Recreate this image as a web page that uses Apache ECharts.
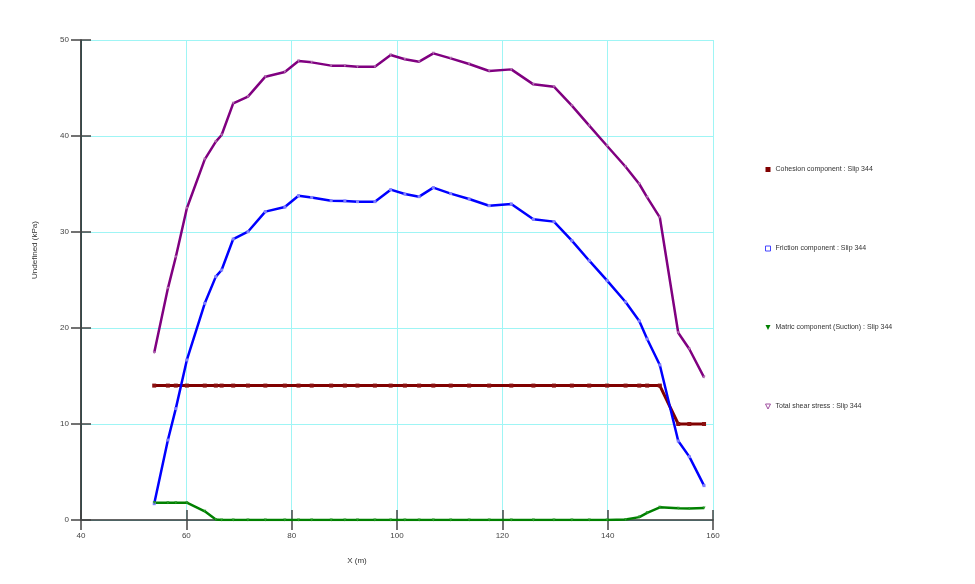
<!DOCTYPE html>
<html>
<head>
<meta charset="utf-8">
<script src="https://cdn.jsdelivr.net/npm/echarts@6/dist/echarts.min.js"></script>
<style>
    html, body { margin: 0; padding: 0; background: #fff; }
    #chart { width: 975px; height: 584px; }
</style>
</head>
<body>
<div id="chart"></div>
<script>
    // slice x positions (m)
    var xValues = [53.9, 56.5, 58.0, 60.1, 63.5, 65.6, 66.7, 68.9, 71.7, 75.0, 78.7, 81.3, 83.8, 87.5, 90.1, 92.5,
        95.8, 98.8, 101.5, 104.2, 106.9, 110.2, 113.7, 117.5, 121.7, 125.9, 129.8, 133.2, 136.5, 139.9, 143.4,
        146.0, 147.5, 149.9, 153.4, 155.5, 158.3];

    var cohesion = [14, 14, 14, 14, 14, 14, 14, 14, 14, 14, 14, 14, 14, 14, 14, 14, 14, 14, 14, 14, 14, 14, 14,
        14, 14, 14, 14, 14, 14, 14, 14, 14, 14, 14, 10, 10, 10];

    var friction = [1.7, 8.33, 11.6, 16.67, 22.57, 25.35, 26.04, 29.27, 30.03, 32.12, 32.6, 33.78, 33.6, 33.26,
        33.23, 33.16, 33.16, 34.41, 33.96, 33.68, 34.62, 34.0, 33.44, 32.74, 32.92, 31.32, 31.08, 29.1, 27.01,
        24.93, 22.71, 20.73, 18.85, 16.15, 8.23, 6.6, 3.58];

    var matric = [1.8, 1.8, 1.8, 1.8, 0.9, 0.05, 0, 0, 0, 0, 0, 0, 0, 0, 0, 0, 0, 0, 0, 0, 0, 0, 0, 0, 0, 0, 0,
        0, 0, 0, 0.05, 0.3, 0.75, 1.32, 1.22, 1.2, 1.25];

    var total = [17.43, 24.13, 27.4, 32.47, 37.57, 39.41, 40.1, 43.4, 44.1, 46.18, 46.67, 47.81, 47.67, 47.33,
        47.33, 47.22, 47.22, 48.44, 47.99, 47.74, 48.61, 48.09, 47.5, 46.77, 46.94, 45.38, 45.14, 43.16, 41.08,
        38.96, 36.8, 35.0, 33.61, 31.53, 19.51, 17.81, 14.86];

    var seriesNames = ['Cohesion component : Slip 344', 'Friction component : Slip 344',
        'Matric component (Suction) : Slip 344', 'Total shear stress : Slip 344'];

    var triDown = 'path://M0,0L10,0L5,10Z';
    var fontFam = '"Liberation Sans", Arial, sans-serif';

    function pairs(arr) {
        return xValues.map(function (x, i) { return [x, arr[i]]; });
    }

    var myChart = echarts.init(document.getElementById('chart'));

    var axisTextStyle = { color: '#444', fontSize: 8, fontFamily: fontFam };

    var option = {
        animation: false,
        backgroundColor: '#fff',
        grid: { left: 81, right: 262, top: 40, bottom: 64 },
        legend: {
            orient: 'vertical',
            left: 765,
            top: 165,
            padding: 0,
            itemWidth: 5,
            itemHeight: 5,
            itemGap: 70,
            textStyle: { color: '#333', fontSize: 7, fontFamily: fontFam, lineHeight: 9 },
            data: [
                { name: seriesNames[0], icon: 'rect', itemStyle: { color: '#800000', borderWidth: 0 } },
                { name: seriesNames[1], icon: 'rect', itemStyle: { color: '#fff', borderColor: '#4444ff', borderWidth: 1 } },
                { name: seriesNames[2], icon: triDown, itemStyle: { color: '#008000', borderWidth: 0 } },
                { name: seriesNames[3], icon: triDown, itemStyle: { color: '#fff', borderColor: '#a050a0', borderWidth: 1 } }
            ]
        },
        xAxis: [{
            type: 'value',
            min: 40, max: 160, interval: 20,
            axisLine: { lineStyle: { color: '#333', width: 1.5 } },
            axisTick: { length: 10, lineStyle: { color: '#444', width: 1.5 } },
            axisLabel: Object.assign({ margin: 12 }, axisTextStyle),
            splitLine: { show: true, lineStyle: { color: '#9ff5f5', width: 1 } }
        }, {
            // inner half of the crossing ticks
            type: 'value', position: 'bottom',
            min: 40, max: 160, interval: 20,
            axisLine: { show: false },
            axisTick: { inside: true, length: 10, lineStyle: { color: '#444', width: 1.5 } },
            axisLabel: { show: false },
            splitLine: { show: false }
        }],
        yAxis: [{
            type: 'value',
            min: 0, max: 50, interval: 10,
            axisLine: { show: true, lineStyle: { color: '#111', width: 1.5 } },
            axisTick: { show: true, length: 10, lineStyle: { color: '#444', width: 1.5 } },
            axisLabel: Object.assign({ margin: 12 }, axisTextStyle),
            splitLine: { show: true, lineStyle: { color: '#9ff5f5', width: 1 } }
        }, {
            type: 'value', position: 'left',
            min: 0, max: 50, interval: 10,
            axisLine: { show: false },
            axisTick: { show: true, inside: true, length: 10, lineStyle: { color: '#444', width: 1.5 } },
            axisLabel: { show: false },
            splitLine: { show: false }
        }],
        graphic: [{
            type: 'text',
            x: 357, y: 561,
            style: { text: 'X (m)', fill: '#333', font: '8px ' + fontFam, align: 'center', verticalAlign: 'middle' }
        }, {
            type: 'text',
            x: 35, y: 250,
            rotation: Math.PI / 2,
            style: { text: 'Undefined (kPa)', fill: '#333', font: '8px ' + fontFam, align: 'center', verticalAlign: 'middle' }
        }],
        series: [{
            name: seriesNames[0],
            type: 'line',
            data: pairs(cohesion),
            symbol: 'rect',
            symbolSize: 4,
            lineStyle: { color: '#800000', width: 3 },
            itemStyle: { color: '#8b1010' }
        }, {
            name: seriesNames[1],
            type: 'line',
            data: pairs(friction),
            symbol: 'rect',
            symbolSize: 3,
            lineStyle: { color: '#0000ff', width: 2.5 },
            itemStyle: { color: '#8080ff', borderColor: '#8080ff', borderWidth: 0 }
        }, {
            name: seriesNames[2],
            type: 'line',
            data: pairs(matric),
            symbol: triDown,
            symbolSize: 3,
            lineStyle: { color: '#008000', width: 2.5 },
            itemStyle: { color: '#2a9a2a' }
        }, {
            name: seriesNames[3],
            type: 'line',
            data: pairs(total),
            symbol: triDown,
            symbolSize: 3,
            lineStyle: { color: '#800080', width: 2.5 },
            itemStyle: { color: '#b070b0', borderWidth: 0 }
        }]
    };

    myChart.setOption(option);
    window.onresize = function () {
        myChart.resize();
    };
</script>
</body>
</html>
